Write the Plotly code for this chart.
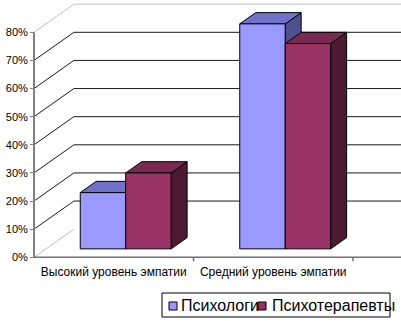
import plotly.graph_objects as go

# ---- data ----
categories = ["Высокий уровень эмпатии", "Средний уровень эмпатии"]
series_names = ["Психологи", "Психотерапевты"]
psychologists = [20, 80]
psychotherapists = [27, 73]
y_ticks = [0, 10, 20, 30, 40, 50, 60, 70, 80]
y_tick_labels = ["0%", "10%", "20%", "30%", "40%", "50%", "60%", "70%", "80%"]
cat_bounds = [0, 1, 2]

series_values = [psychologists, psychotherapists]
front_colors = ["#9999FF", "#993366"]
top_colors = ["#7171C9", "#7A2952"]
side_colors = ["#50508F", "#4C1A33"]

# ---- geometry (pixel layout of the reference) ----
W, H = 401, 321
AX_X = 34.0          # px of the front vertical axis
ZERO_Y = 257.3       # px of 0% on the front
CAT_PX = 159.5       # px per category unit
PCT_PX = 2.8125      # px per percent
x_range = [-AX_X / CAT_PX, (W - AX_X) / CAT_PX]
y_range = [(ZERO_Y - H) / PCT_PX, ZERO_Y / PCT_PX]

floor_dx, floor_dy = 0.25, 10.0      # full depth offset in data units
front_frac, depth_frac = 0.3, 0.4    # bars occupy this part of the depth
group_w = 0.57
bar_w = group_w / len(series_values)

fig = go.Figure()


def add_lines(xs, ys, color, width):
    fig.add_trace(go.Scatter(x=xs, y=ys, mode="lines",
                             line=dict(color=color, width=width),
                             hoverinfo="skip", showlegend=False))


# back wall gridlines
xs, ys, xs_l, ys_l = [], [], [], []
for t in y_ticks[1:]:
    tgt = (xs_l, ys_l) if t == y_ticks[-1] else (xs, ys)
    tgt[0].extend([floor_dx, x_range[1] + 1, None])
    tgt[1].extend([t + floor_dy, t + floor_dy, None])
# left wall diagonals
for t in y_ticks:
    tgt = (xs_l, ys_l) if t in (y_ticks[0], y_ticks[-1]) else (xs, ys)
    tgt[0].extend([0, floor_dx, None])
    tgt[1].extend([t, t + floor_dy, None])
add_lines(xs, ys, "#1a1a1a", 1)
add_lines(xs_l, ys_l, "#c0c0c0", 1)

# axes lines
tick_len = 4 / PCT_PX
ax_x, ax_y = [0, x_range[1] + 1, None], [0, 0, None]
for b in cat_bounds[1:]:
    ax_x.extend([b, b, None])
    ax_y.extend([0, -tick_len, None])
add_lines(ax_x, ax_y, "#707070", 1.5)
add_lines([0, 0], [y_ticks[0], y_ticks[-1]], "#808080", 2)

# 3D bars (painter's order)
fdx, fdy = floor_dx * front_frac, floor_dy * front_frac
bdx, bdy = floor_dx * depth_frac, floor_dy * depth_frac


def poly(xs, ys, fill):
    fig.add_trace(go.Scatter(x=xs + [xs[0]], y=ys + [ys[0]], mode="lines",
                             fill="toself", fillcolor=fill,
                             line=dict(color="black", width=1),
                             hoverinfo="skip", showlegend=False))


for i, cat in enumerate(categories):
    for j, vals in enumerate(series_values):
        v = vals[i]
        x0 = i + 0.5 - group_w / 2 + j * bar_w + fdx
        x1 = x0 + bar_w
        yb, yt = fdy, v + fdy
        poly([x1, x1 + bdx, x1 + bdx, x1], [yb, yb + bdy, yt + bdy, yt], side_colors[j])
        poly([x0, x1, x1 + bdx, x0 + bdx], [yt, yt, yt + bdy, yt + bdy], top_colors[j])
        poly([x0, x1, x1, x0], [yb, yb, yt, yt], front_colors[j])

# ---- legend (drawn to match reference box) ----
shapes = [dict(type="rect", xref="paper", yref="paper",
               x0=162 / W, x1=390 / W, y0=1 - 317 / H, y1=1 - 293 / H,
               line=dict(color="black", width=1), fillcolor="white")]
annotations = []
leg_sq_x = [169, 258]
leg_txt_x = [179, 270]
for k, name in enumerate(series_names):
    annotations.append(dict(text=name, xref="paper", yref="paper",
                            x=leg_txt_x[k] / W, y=1 - 305.5 / H,
                            xanchor="left", yanchor="middle", showarrow=False,
                            font=dict(family="Arial, Liberation Sans", size=16, color="black")))
for k, name in enumerate(series_names):
    shapes.append(dict(type="rect", xref="paper", yref="paper",
                       x0=leg_sq_x[k] / W, x1=(leg_sq_x[k] + 8) / W,
                       y0=1 - 310 / H, y1=1 - 302 / H,
                       line=dict(color="black", width=1), fillcolor=front_colors[k]))

fig.update_layout(
    width=W, height=H, autosize=False,
    margin=dict(l=0, r=0, t=0, b=0),
    paper_bgcolor="white", plot_bgcolor="white",
    showlegend=False,
    xaxis=dict(range=x_range, anchor="free", position=1 - ZERO_Y / H,
               tickvals=[0.5, 1.5], ticktext=categories,
               ticks="outside", ticklen=3, tickcolor="rgba(0,0,0,0)",
               showline=False, showgrid=False, zeroline=False,
               tickfont=dict(family="Arial, Liberation Sans", size=12, color="black"),
               fixedrange=True),
    yaxis=dict(range=y_range, anchor="free", position=AX_X / W,
               tickvals=y_ticks, ticktext=y_tick_labels,
               ticks="outside", ticklen=4, tickcolor="#808080",
               showline=False, showgrid=False, zeroline=False,
               tickfont=dict(family="Arial, Liberation Sans", size=11, color="black"),
               fixedrange=True),
    shapes=shapes, annotations=annotations,
)

fig.write_html("out.html")
